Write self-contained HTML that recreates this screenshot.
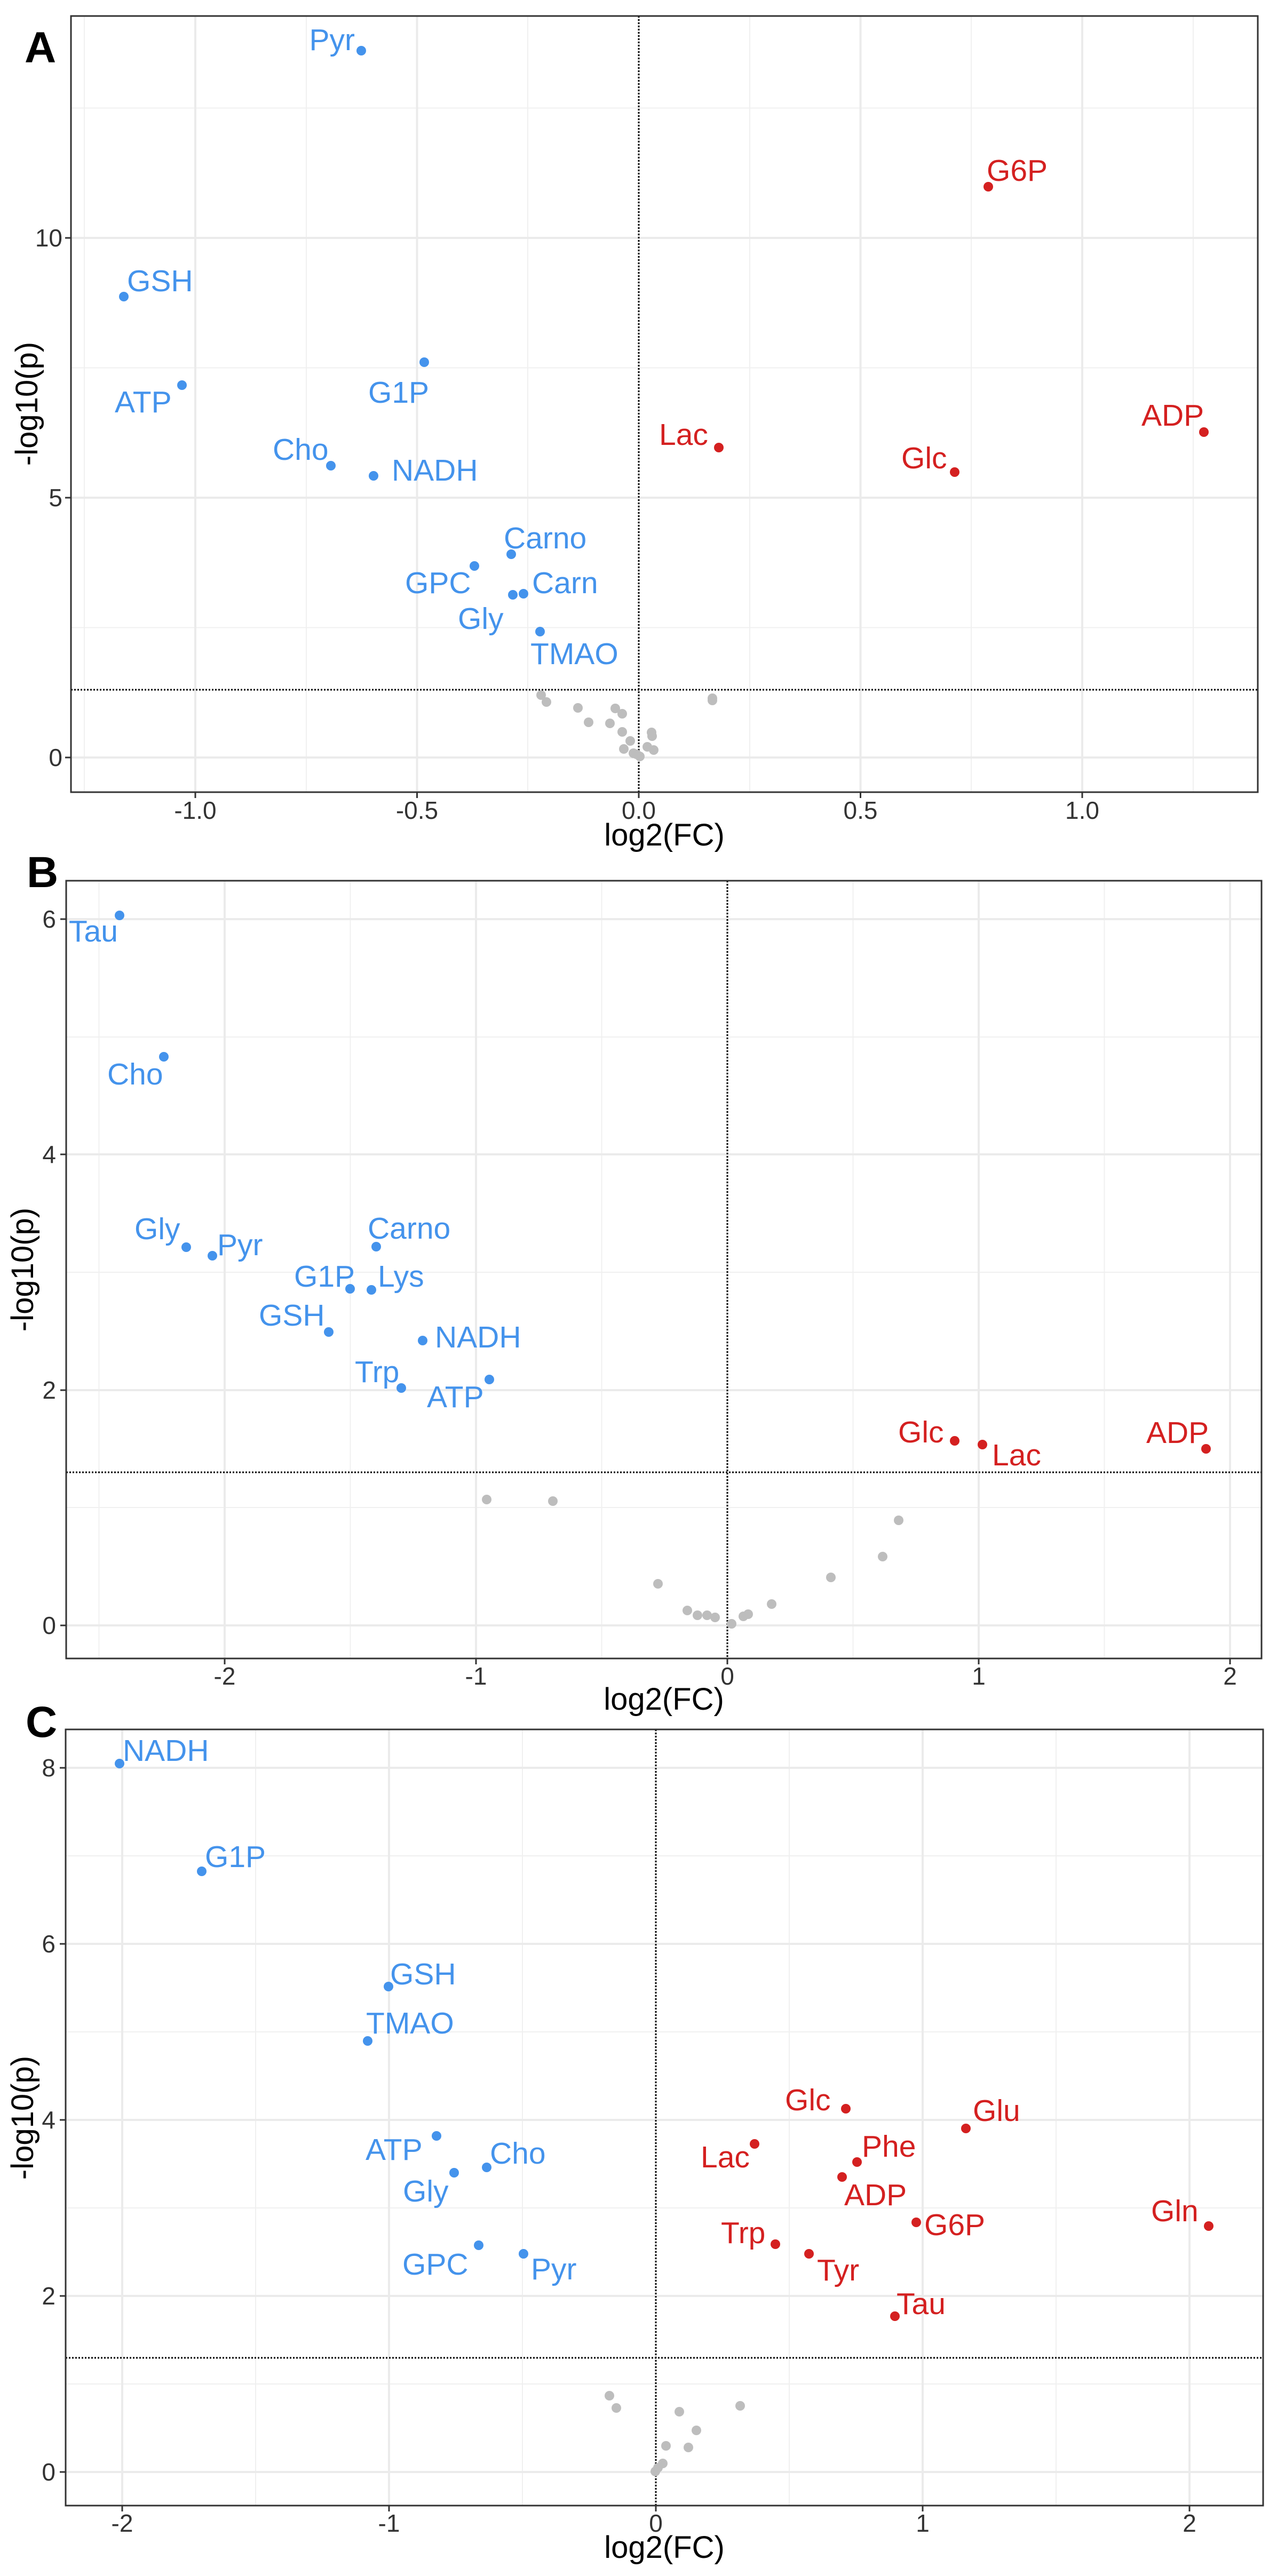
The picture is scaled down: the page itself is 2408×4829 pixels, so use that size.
<!DOCTYPE html>
<html><head><meta charset="utf-8"><style>
html,body{margin:0;padding:0;background:#fff}
svg{display:block}
text{font-family:"Liberation Sans",sans-serif}
.tk{font-size:46px;fill:#333}
.ti{font-size:58px;fill:#000}
.lb{font-size:57px}
.b{fill:#4493ec}
.r{fill:#d42020}
.g{fill:#bdbdbd}
.mj{stroke:#ebebeb;stroke-width:4}
.mn{stroke:#f0f0f0;stroke-width:2}
.dl{stroke:#000;stroke-width:3;stroke-dasharray:3,3}
.bx{fill:none;stroke:#333;stroke-width:3}
.tkl{stroke:#333;stroke-width:3}
.pl{font-size:82px;font-weight:bold;fill:#000}
</style></head><body>
<svg width="2408" height="4829" viewBox="0 0 2408 4829" xmlns="http://www.w3.org/2000/svg">
<rect width="2408" height="4829" fill="#fff"/>

<!-- ===== Panel A ===== -->
<text class="pl" x="46" y="117">A</text>
<g>
<line class="mn" x1="158" y1="30" x2="158" y2="1485"/><line class="mn" x1="574" y1="30" x2="574" y2="1485"/><line class="mn" x1="989" y1="30" x2="989" y2="1485"/><line class="mn" x1="1405" y1="30" x2="1405" y2="1485"/><line class="mn" x1="1820" y1="30" x2="1820" y2="1485"/><line class="mn" x1="2236" y1="30" x2="2236" y2="1485"/>
<line class="mn" x1="133" y1="1176.5" x2="2357" y2="1176.5"/><line class="mn" x1="133" y1="689.5" x2="2357" y2="689.5"/><line class="mn" x1="133" y1="202.5" x2="2357" y2="202.5"/>
<line class="mj" x1="366" y1="30" x2="366" y2="1485"/><line class="mj" x1="781.5" y1="30" x2="781.5" y2="1485"/><line class="mj" x1="1197" y1="30" x2="1197" y2="1485"/><line class="mj" x1="1612.5" y1="30" x2="1612.5" y2="1485"/><line class="mj" x1="2028" y1="30" x2="2028" y2="1485"/>
<line class="mj" x1="133" y1="1420" x2="2357" y2="1420"/><line class="mj" x1="133" y1="933" x2="2357" y2="933"/><line class="mj" x1="133" y1="446" x2="2357" y2="446"/>
<line class="dl" x1="1197" y1="30" x2="1197" y2="1485"/>
<line class="dl" x1="133" y1="1293" x2="2357" y2="1293"/>
<g class="g">
<circle cx="1014" cy="1303" r="9"/><circle cx="1024" cy="1316" r="9"/><circle cx="1083" cy="1327" r="9"/><circle cx="1153" cy="1328" r="9"/><circle cx="1166" cy="1338" r="9"/><circle cx="1103" cy="1354" r="9"/><circle cx="1143" cy="1356" r="9"/><circle cx="1166" cy="1372" r="9"/><circle cx="1221" cy="1373" r="9"/><circle cx="1181" cy="1389" r="9"/><circle cx="1222" cy="1380" r="9"/><circle cx="1169" cy="1404" r="9"/><circle cx="1213" cy="1400" r="9"/><circle cx="1225" cy="1406" r="9"/><circle cx="1187" cy="1412" r="9"/><circle cx="1199" cy="1418" r="9"/><circle cx="1193" cy="1414" r="9"/><circle cx="1335" cy="1309" r="9"/><circle cx="1335" cy="1313" r="9"/>
</g>
<g class="b">
<circle cx="677" cy="95" r="9"/><circle cx="232" cy="556" r="9"/><circle cx="795" cy="679" r="9"/><circle cx="341" cy="722" r="9"/><circle cx="620" cy="873" r="9"/><circle cx="700" cy="892" r="9"/><circle cx="958" cy="1039" r="9"/><circle cx="889" cy="1061" r="9"/><circle cx="981" cy="1113" r="9"/><circle cx="961" cy="1115" r="9"/><circle cx="1012" cy="1184" r="9"/>
<text class="lb" x="665" y="94" text-anchor="end">Pyr</text>
<text class="lb" x="238" y="546">GSH</text>
<text class="lb" x="690" y="755">G1P</text>
<text class="lb" x="215" y="773">ATP</text>
<text class="lb" x="511" y="862">Cho</text>
<text class="lb" x="734" y="901">NADH</text>
<text class="lb" x="944" y="1028">Carno</text>
<text class="lb" x="759" y="1112">GPC</text>
<text class="lb" x="997" y="1112">Carn</text>
<text class="lb" x="858" y="1179">Gly</text>
<text class="lb" x="994" y="1245">TMAO</text>
</g>
<g class="r">
<circle cx="1852" cy="350" r="9"/><circle cx="1347" cy="839" r="9"/><circle cx="1789" cy="885" r="9"/><circle cx="2256" cy="810" r="9"/>
<text class="lb" x="1849" y="339">G6P</text>
<text class="lb" x="1235" y="834">Lac</text>
<text class="lb" x="1689" y="878">Glc</text>
<text class="lb" x="2139" y="798">ADP</text>
</g>
<rect class="bx" x="133" y="30" width="2224" height="1455"/>
<line class="tkl" x1="122" y1="1420" x2="133" y2="1420"/><line class="tkl" x1="122" y1="933" x2="133" y2="933"/><line class="tkl" x1="122" y1="446" x2="133" y2="446"/>
<line class="tkl" x1="366" y1="1485" x2="366" y2="1496"/><line class="tkl" x1="781.5" y1="1485" x2="781.5" y2="1496"/><line class="tkl" x1="1197" y1="1485" x2="1197" y2="1496"/><line class="tkl" x1="1612.5" y1="1485" x2="1612.5" y2="1496"/><line class="tkl" x1="2028" y1="1485" x2="2028" y2="1496"/>
<text class="tk" x="117" y="1436" text-anchor="end">0</text><text class="tk" x="117" y="949" text-anchor="end">5</text><text class="tk" x="117" y="462" text-anchor="end">10</text>
<text class="tk" x="366" y="1535" text-anchor="middle">-1.0</text><text class="tk" x="781.5" y="1535" text-anchor="middle">-0.5</text><text class="tk" x="1197" y="1535" text-anchor="middle">0.0</text><text class="tk" x="1612.5" y="1535" text-anchor="middle">0.5</text><text class="tk" x="2028" y="1535" text-anchor="middle">1.0</text>
<text class="ti" x="1245" y="1585" text-anchor="middle">log2(FC)</text>
<text class="ti" transform="translate(70,757) rotate(-90)" text-anchor="middle">-log10(p)</text>
</g>

<!-- ===== Panel B ===== -->
<text class="pl" x="50" y="1663">B</text>
<g>
<line class="mn" x1="185.5" y1="1651" x2="185.5" y2="3109"/><line class="mn" x1="656.5" y1="1651" x2="656.5" y2="3109"/><line class="mn" x1="1127.5" y1="1651" x2="1127.5" y2="3109"/><line class="mn" x1="1598.5" y1="1651" x2="1598.5" y2="3109"/><line class="mn" x1="2069.5" y1="1651" x2="2069.5" y2="3109"/>
<line class="mn" x1="124" y1="2826" x2="2364" y2="2826"/><line class="mn" x1="124" y1="2385" x2="2364" y2="2385"/><line class="mn" x1="124" y1="1944" x2="2364" y2="1944"/>
<line class="mj" x1="421" y1="1651" x2="421" y2="3109"/><line class="mj" x1="892" y1="1651" x2="892" y2="3109"/><line class="mj" x1="1363" y1="1651" x2="1363" y2="3109"/><line class="mj" x1="1834" y1="1651" x2="1834" y2="3109"/><line class="mj" x1="2305" y1="1651" x2="2305" y2="3109"/>
<line class="mj" x1="124" y1="3047" x2="2364" y2="3047"/><line class="mj" x1="124" y1="2606" x2="2364" y2="2606"/><line class="mj" x1="124" y1="2164" x2="2364" y2="2164"/><line class="mj" x1="124" y1="1723" x2="2364" y2="1723"/>
<line class="dl" x1="1363" y1="1651" x2="1363" y2="3109"/>
<line class="dl" x1="124" y1="2760" x2="2364" y2="2760"/>
<g class="g">
<circle cx="912" cy="2811" r="9"/><circle cx="1036" cy="2814" r="9"/><circle cx="1684" cy="2850" r="9"/><circle cx="1654" cy="2918" r="9"/><circle cx="1557" cy="2957" r="9"/><circle cx="1446" cy="3007" r="9"/><circle cx="1233" cy="2969" r="9"/><circle cx="1288" cy="3019" r="9"/><circle cx="1307" cy="3028" r="9"/><circle cx="1325" cy="3028" r="9"/><circle cx="1340" cy="3032" r="9"/><circle cx="1371" cy="3044" r="9"/><circle cx="1393" cy="3030" r="9"/><circle cx="1402" cy="3026" r="9"/>
</g>
<g class="b">
<circle cx="224" cy="1716" r="9"/><circle cx="307" cy="1981" r="9"/><circle cx="349" cy="2338" r="9"/><circle cx="398" cy="2354" r="9"/><circle cx="705" cy="2337" r="9"/><circle cx="656" cy="2416" r="9"/><circle cx="696" cy="2418" r="9"/><circle cx="616" cy="2497" r="9"/><circle cx="792" cy="2513" r="9"/><circle cx="752" cy="2602" r="9"/><circle cx="917" cy="2586" r="9"/>
<text class="lb" x="129" y="1765">Tau</text>
<text class="lb" x="201" y="2033">Cho</text>
<text class="lb" x="252" y="2323">Gly</text>
<text class="lb" x="407" y="2353">Pyr</text>
<text class="lb" x="689" y="2322">Carno</text>
<text class="lb" x="551" y="2412">G1P</text>
<text class="lb" x="708" y="2412">Lys</text>
<text class="lb" x="485" y="2485">GSH</text>
<text class="lb" x="815" y="2526">NADH</text>
<text class="lb" x="665" y="2591">Trp</text>
<text class="lb" x="800" y="2638">ATP</text>
</g>
<g class="r">
<circle cx="1789" cy="2701" r="9"/><circle cx="1841" cy="2708" r="9"/><circle cx="2260" cy="2716" r="9"/>
<text class="lb" x="1683" y="2704">Glc</text>
<text class="lb" x="1859" y="2747">Lac</text>
<text class="lb" x="2148" y="2705">ADP</text>
</g>
<rect class="bx" x="124" y="1651" width="2240" height="1458"/>
<line class="tkl" x1="113" y1="3047" x2="124" y2="3047"/><line class="tkl" x1="113" y1="2606" x2="124" y2="2606"/><line class="tkl" x1="113" y1="2164" x2="124" y2="2164"/><line class="tkl" x1="113" y1="1723" x2="124" y2="1723"/>
<line class="tkl" x1="421" y1="3109" x2="421" y2="3120"/><line class="tkl" x1="892" y1="3109" x2="892" y2="3120"/><line class="tkl" x1="1363" y1="3109" x2="1363" y2="3120"/><line class="tkl" x1="1834" y1="3109" x2="1834" y2="3120"/><line class="tkl" x1="2305" y1="3109" x2="2305" y2="3120"/>
<text class="tk" x="105" y="3063" text-anchor="end">0</text><text class="tk" x="105" y="2622" text-anchor="end">2</text><text class="tk" x="105" y="2180" text-anchor="end">4</text><text class="tk" x="105" y="1739" text-anchor="end">6</text>
<text class="tk" x="421" y="3158" text-anchor="middle">-2</text><text class="tk" x="892" y="3158" text-anchor="middle">-1</text><text class="tk" x="1363" y="3158" text-anchor="middle">0</text><text class="tk" x="1834" y="3158" text-anchor="middle">1</text><text class="tk" x="2305" y="3158" text-anchor="middle">2</text>
<text class="ti" x="1244" y="3205" text-anchor="middle">log2(FC)</text>
<text class="ti" transform="translate(62,2380) rotate(-90)" text-anchor="middle">-log10(p)</text>
</g>

<!-- ===== Panel C ===== -->
<text class="pl" x="48" y="3256">C</text>
<g>
<line class="mn" x1="479" y1="3242" x2="479" y2="4697"/><line class="mn" x1="979" y1="3242" x2="979" y2="4697"/><line class="mn" x1="1479" y1="3242" x2="1479" y2="4697"/><line class="mn" x1="1979" y1="3242" x2="1979" y2="4697"/>
<line class="mn" x1="123" y1="4469" x2="2367" y2="4469"/><line class="mn" x1="123" y1="4139" x2="2367" y2="4139"/><line class="mn" x1="123" y1="3809" x2="2367" y2="3809"/><line class="mn" x1="123" y1="3479" x2="2367" y2="3479"/>
<line class="mj" x1="229" y1="3242" x2="229" y2="4697"/><line class="mj" x1="729" y1="3242" x2="729" y2="4697"/><line class="mj" x1="1229" y1="3242" x2="1229" y2="4697"/><line class="mj" x1="1729" y1="3242" x2="1729" y2="4697"/><line class="mj" x1="2229" y1="3242" x2="2229" y2="4697"/>
<line class="mj" x1="123" y1="4634" x2="2367" y2="4634"/><line class="mj" x1="123" y1="4304" x2="2367" y2="4304"/><line class="mj" x1="123" y1="3974" x2="2367" y2="3974"/><line class="mj" x1="123" y1="3644" x2="2367" y2="3644"/><line class="mj" x1="123" y1="3314" x2="2367" y2="3314"/>
<line class="dl" x1="1229" y1="3242" x2="1229" y2="4697"/>
<line class="dl" x1="123" y1="4420" x2="2367" y2="4420"/>
<g class="g">
<circle cx="1142" cy="4491" r="9"/><circle cx="1155" cy="4514" r="9"/><circle cx="1273" cy="4521" r="9"/><circle cx="1387" cy="4510" r="9"/><circle cx="1305" cy="4556" r="9"/><circle cx="1248" cy="4585" r="9"/><circle cx="1290" cy="4588" r="9"/><circle cx="1242" cy="4618" r="9"/><circle cx="1233" cy="4626" r="9"/><circle cx="1228" cy="4633" r="9"/>
</g>
<g class="b">
<circle cx="224" cy="3306" r="9"/><circle cx="378" cy="3508" r="9"/><circle cx="728" cy="3724" r="9"/><circle cx="689" cy="3826" r="9"/><circle cx="818" cy="4004" r="9"/><circle cx="912" cy="4063" r="9"/><circle cx="851" cy="4073" r="9"/><circle cx="897" cy="4209" r="9"/><circle cx="981" cy="4225" r="9"/>
<text class="lb" x="230" y="3301">NADH</text>
<text class="lb" x="384" y="3500">G1P</text>
<text class="lb" x="731" y="3720">GSH</text>
<text class="lb" x="686" y="3812">TMAO</text>
<text class="lb" x="685" y="4049">ATP</text>
<text class="lb" x="918" y="4056">Cho</text>
<text class="lb" x="755" y="4127">Gly</text>
<text class="lb" x="754" y="4264">GPC</text>
<text class="lb" x="995" y="4273">Pyr</text>
</g>
<g class="r">
<circle cx="1585" cy="3953" r="9"/><circle cx="1810" cy="3990" r="9"/><circle cx="1414" cy="4019" r="9"/><circle cx="1606" cy="4053" r="9"/><circle cx="1578" cy="4081" r="9"/><circle cx="1717" cy="4166" r="9"/><circle cx="2265" cy="4173" r="9"/><circle cx="1453" cy="4207" r="9"/><circle cx="1516" cy="4225" r="9"/><circle cx="1677" cy="4342" r="9"/>
<text class="lb" x="1471" y="3956">Glc</text>
<text class="lb" x="1823" y="3976">Glu</text>
<text class="lb" x="1313" y="4063">Lac</text>
<text class="lb" x="1615" y="4043">Phe</text>
<text class="lb" x="1582" y="4134">ADP</text>
<text class="lb" x="1732" y="4190">G6P</text>
<text class="lb" x="2157" y="4164">Gln</text>
<text class="lb" x="1351" y="4205">Trp</text>
<text class="lb" x="1531" y="4275">Tyr</text>
<text class="lb" x="1680" y="4338">Tau</text>
</g>
<rect class="bx" x="123" y="3242" width="2244" height="1455"/>
<line class="tkl" x1="112" y1="4634" x2="123" y2="4634"/><line class="tkl" x1="112" y1="4304" x2="123" y2="4304"/><line class="tkl" x1="112" y1="3974" x2="123" y2="3974"/><line class="tkl" x1="112" y1="3644" x2="123" y2="3644"/><line class="tkl" x1="112" y1="3314" x2="123" y2="3314"/>
<line class="tkl" x1="229" y1="4697" x2="229" y2="4708"/><line class="tkl" x1="729" y1="4697" x2="729" y2="4708"/><line class="tkl" x1="1229" y1="4697" x2="1229" y2="4708"/><line class="tkl" x1="1729" y1="4697" x2="1729" y2="4708"/><line class="tkl" x1="2229" y1="4697" x2="2229" y2="4708"/>
<text class="tk" x="104" y="4650" text-anchor="end">0</text><text class="tk" x="104" y="4320" text-anchor="end">2</text><text class="tk" x="104" y="3990" text-anchor="end">4</text><text class="tk" x="104" y="3660" text-anchor="end">6</text><text class="tk" x="104" y="3330" text-anchor="end">8</text>
<text class="tk" x="229" y="4746" text-anchor="middle">-2</text><text class="tk" x="729" y="4746" text-anchor="middle">-1</text><text class="tk" x="1229" y="4746" text-anchor="middle">0</text><text class="tk" x="1729" y="4746" text-anchor="middle">1</text><text class="tk" x="2229" y="4746" text-anchor="middle">2</text>
<text class="ti" x="1245" y="4795" text-anchor="middle">log2(FC)</text>
<text class="ti" transform="translate(62,3970) rotate(-90)" text-anchor="middle">-log10(p)</text>
</g>
</svg>
</body></html>
